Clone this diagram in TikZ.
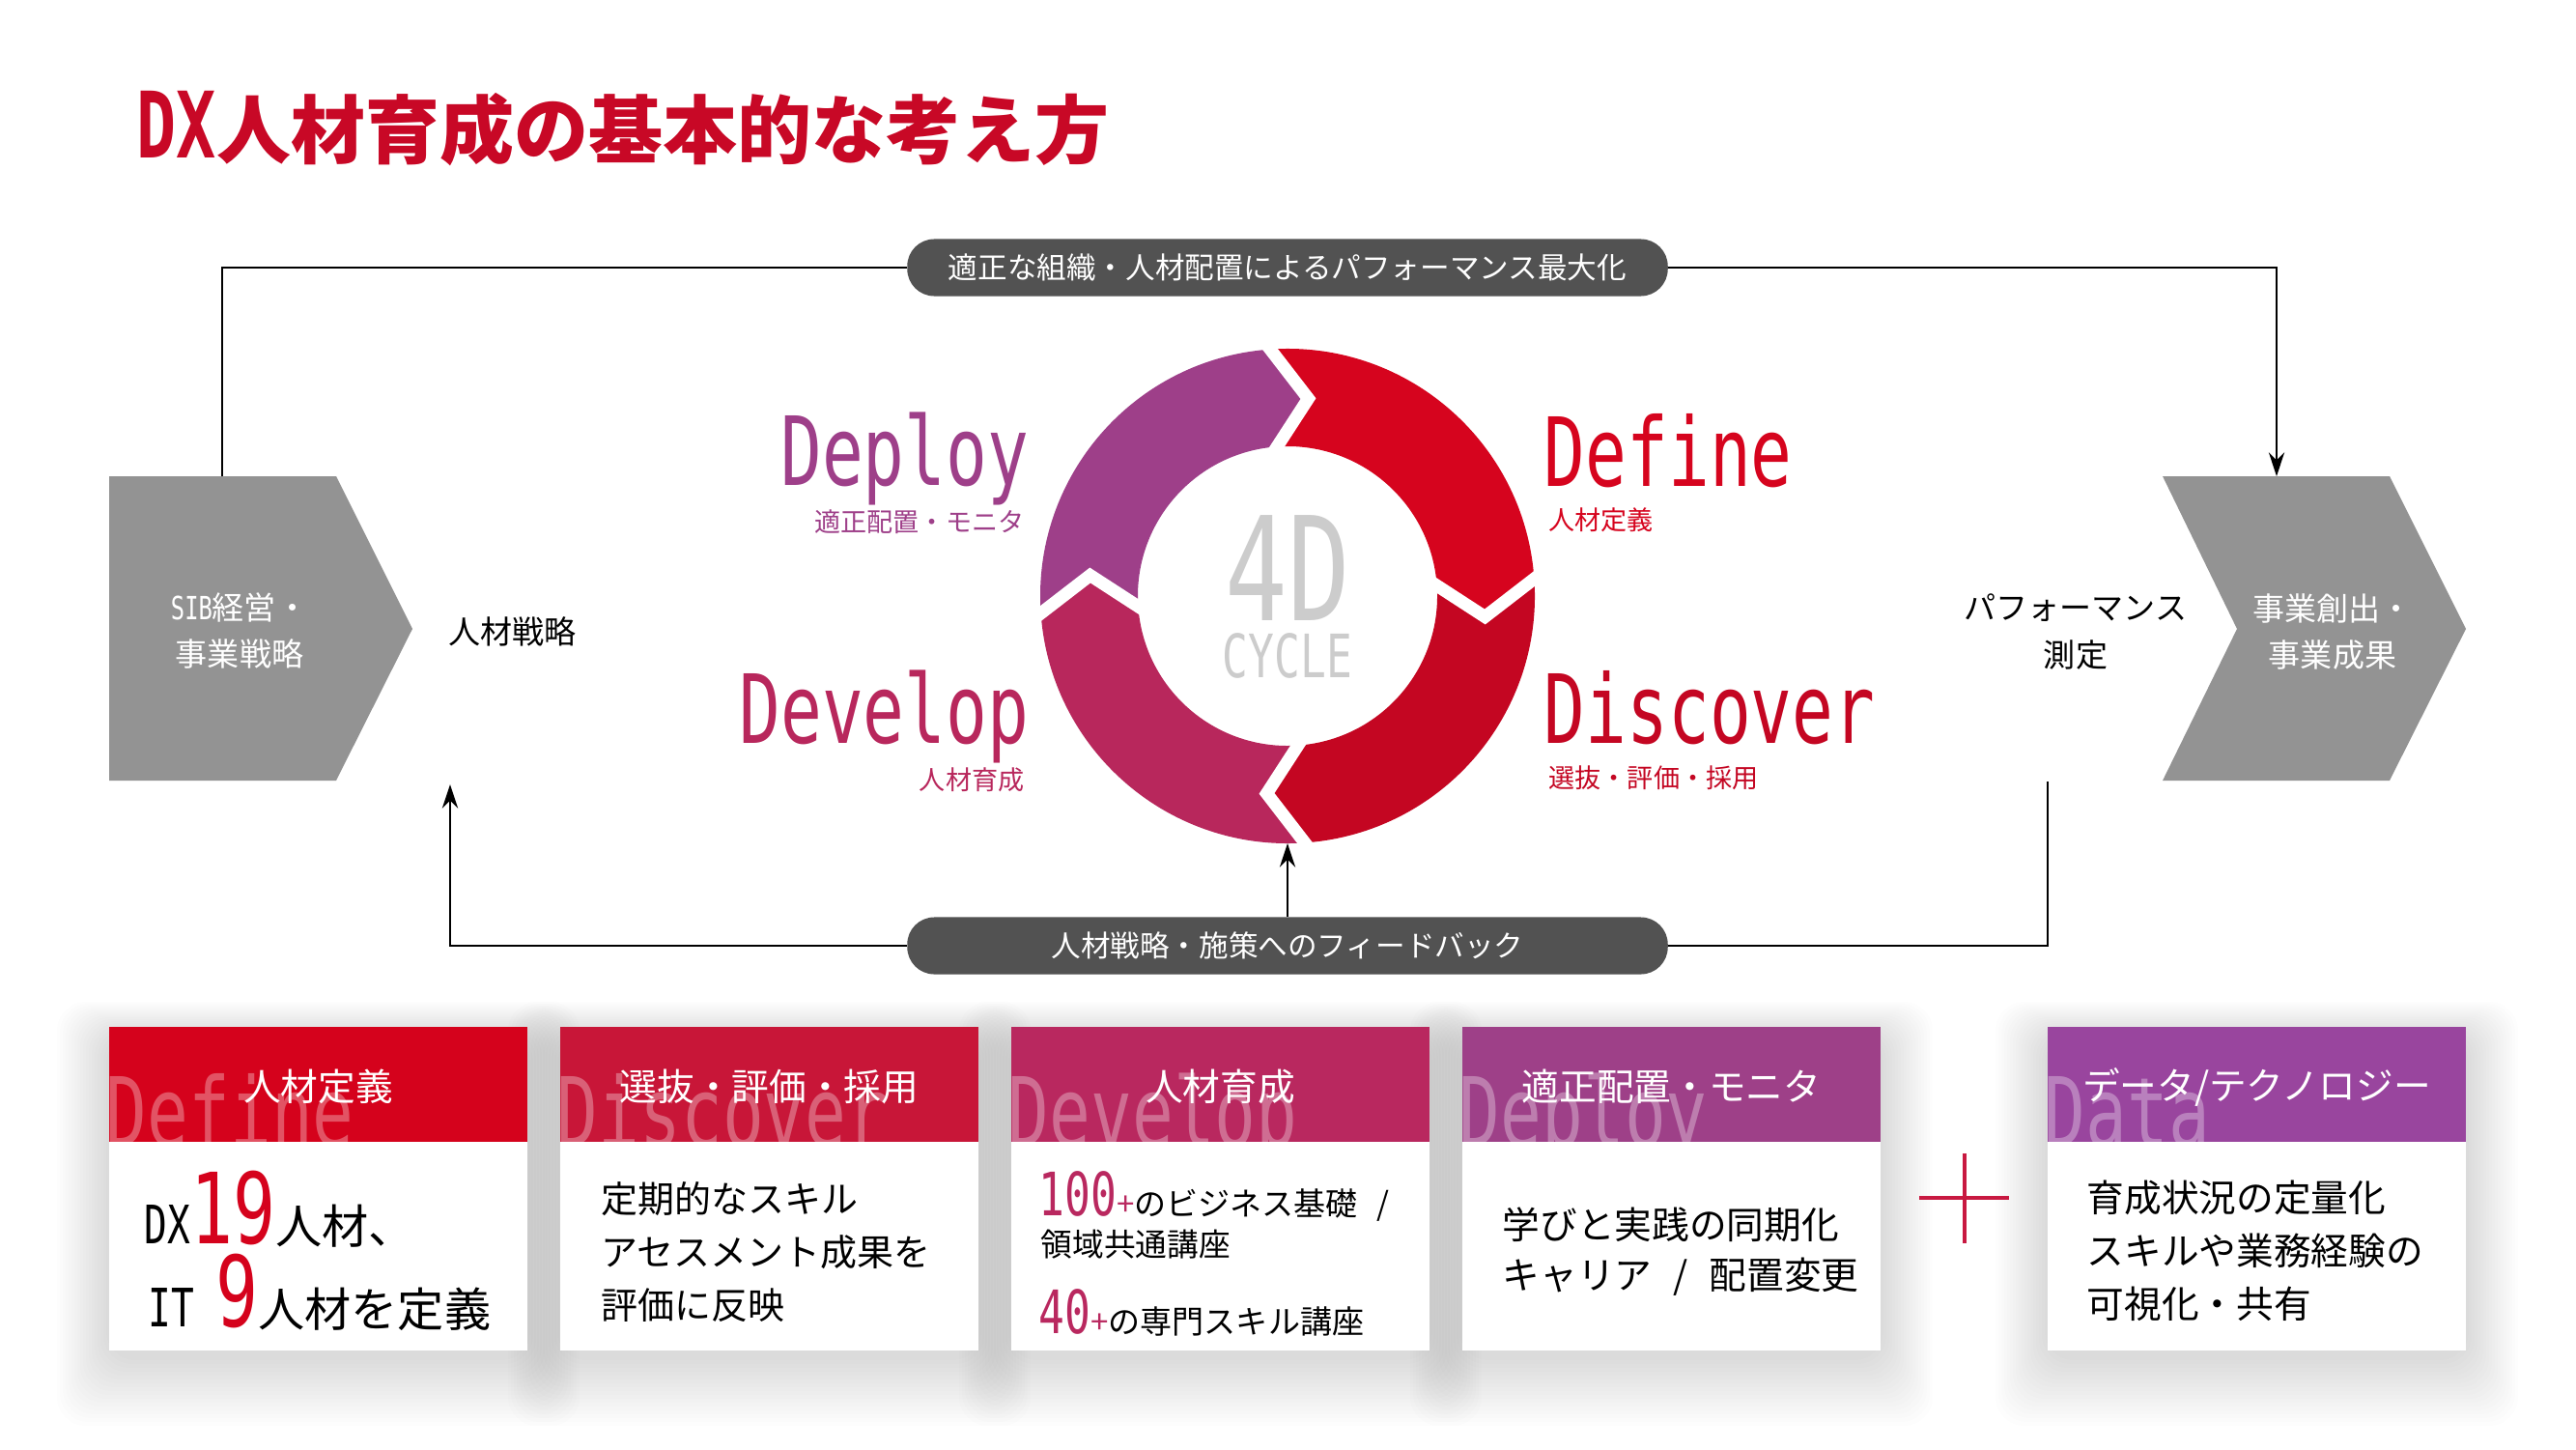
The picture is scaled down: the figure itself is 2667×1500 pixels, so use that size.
\documentclass[tikz,border=0pt]{standalone}
\usepackage{fontspec}
\setmainfont{Noto Sans CJK JP}
\newfontfamily\cond[FakeStretch=0.72]{DejaVu Sans Mono}
\usepackage{tikz}
\usetikzlibrary{calc}
\usetikzlibrary{arrows.meta}
\definecolor{titlered}{RGB}{200,8,38}
\definecolor{defred}{RGB}{214,4,30}
\definecolor{discred}{RGB}{196,6,34}
\definecolor{devpink}{RGB}{184,39,92}
\definecolor{depviolet}{RGB}{158,63,137}
\definecolor{hd1}{RGB}{213,2,28}
\definecolor{hd2}{RGB}{200,22,56}
\definecolor{hd3}{RGB}{185,40,95}
\definecolor{hd4}{RGB}{158,64,136}
\definecolor{hd5}{RGB}{153,69,158}
\definecolor{blockgray}{RGB}{147,147,147}
\definecolor{pillgray}{RGB}{82,82,82}
\definecolor{cyclegray}{RGB}{204,204,204}
\definecolor{plusred}{RGB}{200,25,65}
\tikzset{
   conn/.style={draw=black, line width=0.7pt},
   tip/.style={-{Stealth[length=7pt,width=4.6pt]}},
   pill/.style={fill=pillgray, rounded corners=0.28cm, minimum width=7.87cm,
      minimum height=0.59cm, inner sep=0pt, text=white,
      font=\fontsize{8.7}{10}\selectfont},
   biglabel/.style={inner sep=0pt, font=\cond\fontsize{28.1}{30}\selectfont},
   sublabel/.style={inner sep=0pt, font=\fontsize{7.7}{9}\selectfont},
   blocktext/.style={inner sep=0pt, align=center, font=\fontsize{9.4}{13.7}\selectfont},
   watermark/.style={inner sep=0pt, text=white, text opacity=0.32,
      font=\cond\fontsize{28.1}{30}\selectfont},
   headtext/.style={inner sep=0pt, text=white, font=\fontsize{11}{13}\selectfont},
   bodytext/.style={inner sep=0pt, align=left, text=black},
    }
\begin{document}
\begin{tikzpicture}[x=0.01cm,y=-0.01cm]
        \fill[white] (0,0) rectangle (2667,1500);
        \useasboundingbox (0,0) rectangle (2667,1500);
        \node[anchor=base west, inner sep=0pt, text=titlered,
           font=\bfseries\fontsize{21.9}{24}\selectfont] (title) at (141,163)
           {{\cond\fontsize{27}{28}\selectfont DX}人材育成の基本的な考え方};

        % blocks
        \fill[blockgray] (113,493) -- (348,493) -- (427,651) -- (348,808) -- (113,808) -- cycle;
        \fill[blockgray] (2239,493) -- (2474,493) -- (2553,651) -- (2474,808) -- (2239,808) -- (2316,651) -- cycle;
        \coordinate (sibtop) at (230,493);
        \coordinate (outtop) at (2357,493);
        \node[blocktext, text=white] (sib) at (248,653) {{\cond SIB}経営・\\事業戦略};
        \node[blocktext, text=white] (outcome) at (2415,654) {事業創出・\\事業成果};
        \node[blocktext, anchor=west] (strat) at (464,654) {人材戦略};
        \node[blocktext] (measure) at (2149,654) {パフォーマンス\\測定};

        % ring
        \begin{scope}[shift={(1333,617)}, yscale=-1]
            \def \rout{256}
            \def \rin{155}
            \def \rmid{205.5}
            \foreach \d/\c in {94/defred, 4/discred, -86/devpink, -176/depviolet}{
                \fill[\c] (\d:\rout) arc[start angle=\d, end angle=\d-90, radius=\rout]
                   -- ({\d-100}:\rmid) -- ({\d-90}:\rin)
                   arc[start angle=\d-90, end angle=\d, radius=\rin]
                   -- ({\d-10}:\rmid) -- cycle;
            }
            \foreach \d in {94, 4, -86, -176}{
                \draw[white, line width=0.13cm, line join=miter]
                   ($({\d-10}:\rmid)!1.2!(\d:\rout)$) -- ({\d-10}:\rmid)
                   -- ($({\d-10}:\rmid)!1.2!(\d:\rin)$);
            }
        \end{scope}
        \coordinate (ringbottom) at (1333,873);
        \node[anchor=base, inner sep=0pt, text=cyclegray,
           font=\cond\fontsize{42.5}{44}\selectfont] (fourd) at (1333,642) {4D};
        \node[anchor=base, inner sep=0pt, text=cyclegray,
           font=\cond\fontsize{17.6}{18}\selectfont] (cycle) at (1333,701) {CYCLE};

        % labels
        \node[biglabel, text=defred, anchor=base west] (define) at (1598,503) {Define};
        \node[sublabel, text=defred, anchor=west] (definesub) at (1603,538) {人材定義};
        \node[biglabel, text=discred, anchor=base west] (discover) at (1598,769) {Discover};
        \node[sublabel, text=discred, anchor=west] (discoversub) at (1603,805) {選抜・評価・採用};
        \node[biglabel, text=depviolet, anchor=base east] (deploy) at (1066,502) {Deploy};
        \node[sublabel, text=depviolet, anchor=east] (deploysub) at (1061,540) {適正配置・モニタ};
        \node[biglabel, text=devpink, anchor=base east] (develop) at (1066,769) {Develop};
        \node[sublabel, text=devpink, anchor=east] (developsub) at (1061,807) {人材育成};

        % loops
        \node[pill] (optpill) at (1333,277) {適正な組織・人材配置によるパフォーマンス最大化};
        \node[pill] (fbpill) at (1333,979) {人材戦略・施策へのフィードバック};
        \coordinate (strattip) at (466,812);
        \coordinate (measend) at (2120,809);
        \draw[conn] (sibtop) |- (optpill.west);
        \draw[conn, tip] (optpill.east) -| (outtop);
        \draw[conn, tip] (fbpill.west) -| (strattip);
        \draw[conn] (fbpill.east) -| (measend);
        \draw[conn, tip] (fbpill.north) -- (ringbottom);

        % cards
        \foreach \cx in {113,580,1047,1514,2120}{
            \foreach \k in {1,...,18}{
                \fill[black, opacity=0.007, rounded corners=0.3cm]
                   (\cx-3*\k, 1063-2*\k+10) rectangle (\cx+433+3*\k, 1398+4*\k+6);
            }
        }
        \foreach \cx/\hc/\wm/\ttl in {113/hd1/Define/人材定義, 580/hd2/Discover/選抜・評価・採用,
              1047/hd3/Develop/人材育成, 1514/hd4/Deploy/適正配置・モニタ, 2120/hd5/Data/{データ/テクノロジー}}{
            \fill[white] (\cx,1063) rectangle ++(433,335);
            \fill[\hc] (\cx,1063) rectangle ++(433,119);
            \begin{scope}
                \clip (\cx,1063) rectangle ++(433,119);
                \node[watermark, anchor=base west] (wm\cx) at (\cx-4,1186) {\wm};
            \end{scope}
            \node[headtext] (head\cx) at (\cx+216.5,1125) {\ttl};
        }

        % card texts
        \node[bodytext, anchor=base west, font=\fontsize{13.7}{16}\selectfont] (c1a) at (149,1287)
           {{\cond\fontsize{15.6}{16}\selectfont DX}{\cond\fontsize{28.9}{30}\selectfont\color{hd1}19}人材、};
        \node[bodytext, anchor=base west, font=\fontsize{13.7}{16}\selectfont] (c1b) at (153,1373)
           {{\cond\fontsize{15.6}{16}\selectfont IT}\hspace{0.22cm}{\cond\fontsize{28.9}{30}\selectfont\color{hd1}9}人材を定義};
        \node[bodytext, anchor=west, font=\fontsize{10.8}{15.6}\selectfont] (c2) at (622,1296)
           {定期的なスキル\\アセスメント成果を\\評価に反映};
        \node[bodytext, anchor=base west, font=\fontsize{9.4}{11}\selectfont] (c3a) at (1075,1258)
           {{\cond\fontsize{17.6}{18}\selectfont\color{hd3}100}{\color{hd3}+}のビジネス基礎\hspace{0.2cm}/};
        \node[bodytext, anchor=west, font=\fontsize{9.3}{11}\selectfont] (c3b) at (1077,1288) {領域共通講座};
        \node[bodytext, anchor=base west, font=\fontsize{9.4}{11}\selectfont] (c3c) at (1075,1380)
           {{\cond\fontsize{17.6}{18}\selectfont\color{hd3}40}{\color{hd3}+}の専門スキル講座};
        \node[bodytext, anchor=west, font=\fontsize{11}{14.8}\selectfont] (c4) at (1555,1296)
           {学びと実践の同期化\\キャリア\hspace{0.22cm}/\hspace{0.22cm}配置変更};
        \node[bodytext, anchor=west, font=\fontsize{11}{15.6}\selectfont] (c5) at (2160,1295)
           {育成状況の定量化\\スキルや業務経験の\\可視化・共有};

        % plus
        \coordinate (plustop) at (2034,1194);
        \coordinate (plusbottom) at (2034,1287);
        \coordinate (plusleft) at (1987,1240);
        \coordinate (plusright) at (2080,1240);
        \draw[plusred, line width=1pt] (plustop) -- (plusbottom);
        \draw[plusred, line width=1pt] (plusleft) -- (plusright);

        \end{tikzpicture}
\end{document}
